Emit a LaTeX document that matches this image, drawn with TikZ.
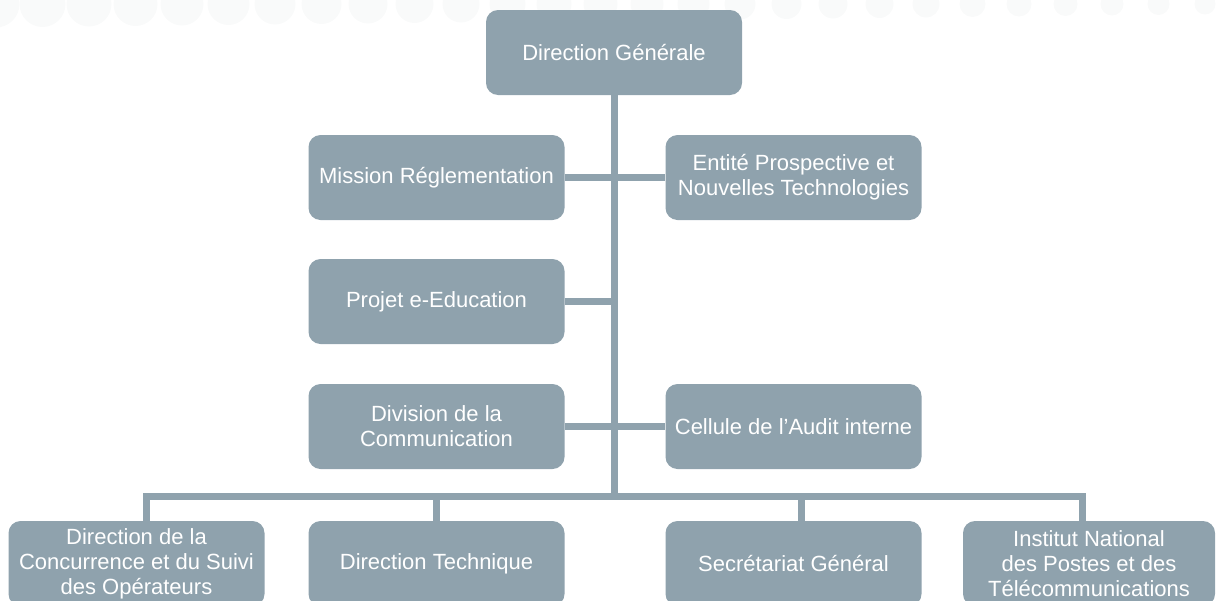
\documentclass[tikz,border=0pt]{standalone}
\usepackage{fontspec}
\setmainfont{Liberation Sans}
\definecolor{boxgray}{RGB}{143,162,173}
\definecolor{deco}{RGB}{249,250,250}
\begin{document}
\begin{tikzpicture}[x=1pt,y=-1pt,
        box/.style={rectangle, rounded corners=12pt, fill=boxgray, text=white,
            minimum width=256pt, minimum height=85pt, inner sep=1pt, align=center,
            font=\fontsize{22}{25}\selectfont},
        link/.style={draw=boxgray, line width=7pt}]
        \useasboundingbox (0,0) rectangle (1216,600);
        \clip (0,0) rectangle (1216,600);
        \foreach \i in {0,...,26}
            \fill[deco] ({-4+46.5*\i},4) circle ({23.5-0.5*\i});
        \node[box] (dg) at (614,52.5) {Direction Générale};
        \node[box] (mr) at (436.5,177.5) {Mission Réglementation};
        \node[box] (ep) at (793.5,177.5) {Entité Prospective et\\Nouvelles Technologies};
        \node[box] (pe) at (436.5,301.5) {Projet e-Education};
        \node[box] (dc) at (436.5,426.5) {Division de la\\Communication};
        \node[box] (ca) at (793.5,426.5) {Cellule de l’Audit interne};
        \node[box] (dco) at (136.5,563.5) {Direction de la\\Concurrence et du Suivi\\des Opérateurs};
        \node[box] (dt) at (436.5,563.5) {Direction Technique};
        \node[box] (sg) at (793.5,563.5) {Secrétariat Général};
        \node[box, minimum width=252pt] (ipt) at (1089,563.5) {Institut National\\des Postes et des\\Télécommunications};
        \coordinate (bus) at (614,496);
        \draw[link] (dg.south) -- (bus);
        \draw[link] (mr.east) -- (ep.west);
        \draw[link] (pe.east) -- (pe.east -| bus);
        \draw[link] (dc.east) -- (ca.west);
        \draw[link] (bus) -| ([xshift=9.5pt]dco.north);
        \draw[link] (bus) -| ([xshift=-7pt]ipt.north);
        \draw[link] (dt.north |- bus) -- (dt.north);
        \draw[link] ([xshift=7.5pt]sg.north |- bus) -- ([xshift=7.5pt]sg.north);
    \end{tikzpicture}
\end{document}
